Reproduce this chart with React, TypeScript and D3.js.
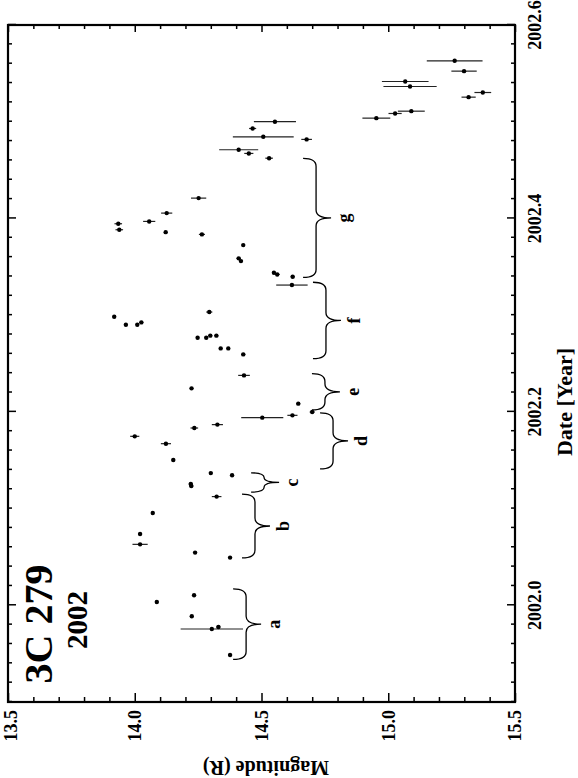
import { useEffect, useRef } from 'react'
import * as d3 from 'd3'

// R-band light curve of 3C 279, 2002 (drawn rotated, as in the paper)
const dates = [
  2001.9486, 2001.9755, 2001.9776, 2001.9886, 2002.0034, 2002.0103, 2002.0493, 2002.0545, 2002.063, 2002.0737,
  2002.0954, 2002.1124, 2002.1233, 2002.1254, 2002.1344, 2002.1367, 2002.1502, 2002.1671, 2002.1747, 2002.1833,
  2002.1868, 2002.194, 2002.1964, 2002.1998, 2002.2085, 2002.2243, 2002.2377, 2002.2594, 2002.2656, 2002.2656,
  2002.2767, 2002.2767, 2002.2788, 2002.2788, 2002.2901, 2002.2901, 2002.2925, 2002.2984, 2002.3032, 2002.3311,
  2002.3397, 2002.3421, 2002.3439, 2002.3559, 2002.3587, 2002.3724, 2002.3835, 2002.3858, 2002.3883, 2002.3945,
  2002.3969, 2002.4055, 2002.421, 2002.4623, 2002.4672, 2002.471, 2002.4817, 2002.4844, 2002.493, 2002.5,
  2002.5037, 2002.5085, 2002.5109, 2002.5254, 2002.5302, 2002.5364, 2002.5416, 2002.5523, 2002.563,
]
const mags = [
  14.376, 14.304, 14.33, 14.225, 14.087, 14.234, 14.376, 14.238, 14.021, 14.021,
  14.071, 14.323, 14.223, 14.221, 14.384, 14.3, 14.152, 14.123, 14.0, 14.235,
  14.326, 14.503, 14.622, 14.7, 14.645, 14.224, 14.431, 14.428, 14.339, 14.369,
  14.248, 14.282, 14.298, 14.322, 13.965, 14.01, 14.026, 13.919, 14.294, 14.62,
  14.623, 14.562, 14.549, 14.419, 14.41, 14.428, 14.265, 14.122, 13.939, 13.935,
  14.057, 14.126, 14.252, 14.53, 14.45, 14.41, 14.678, 14.507, 14.465, 14.553,
  14.953, 15.027, 15.091, 15.317, 15.373, 15.086, 15.067, 15.299, 15.262,
]
const magErrs = [
  0.008, 0.123, 0.008, 0.006, 0.006, 0.006, 0.006, 0.006, 0.03, 0.008,
  0.006, 0.019, 0.008, 0.008, 0.006, 0.006, 0.006, 0.02, 0.018, 0.015,
  0.022, 0.083, 0.02, 0.01, 0.008, 0.006, 0.023, 0.008, 0.006, 0.006,
  0.006, 0.006, 0.008, 0.008, 0.006, 0.006, 0.008, 0.006, 0.012, 0.062,
  0.008, 0.01, 0.006, 0.006, 0.008, 0.006, 0.012, 0.006, 0.015, 0.015,
  0.024, 0.022, 0.03, 0.015, 0.018, 0.077, 0.021, 0.12, 0.014, 0.083,
  0.055, 0.026, 0.053, 0.028, 0.033, 0.105, 0.092, 0.05, 0.11,
]

const braceLabels = ['a', 'b', 'c', 'd', 'e', 'f', 'g']
const braceStart = [2001.944, 2002.049, 2002.117, 2002.141, 2002.202, 2002.255, 2002.339]
const braceEnd = [2002.017, 2002.115, 2002.137, 2002.199, 2002.2395, 2002.334, 2002.462]
const braceMag = [14.388, 14.423, 14.459, 14.731, 14.699, 14.703, 14.664]

const dateTicks = [2002.0, 2002.2, 2002.4, 2002.6]
const magTicks = [13.5, 14.0, 14.5, 15.0, 15.5]

const App = () => {
  const d3Container = useRef(null)
  const width = 578
  const height = 778
  // frame on screen
  const left = 8, top = 25, right = 515, bottom = 702

  useEffect(() => {
    if (!d3Container.current) return
    const font = "'Liberation Serif', 'Times New Roman', serif"
    const plotW = bottom - top   // date axis length
    const plotH = right - left   // magnitude axis length

    const x = d3.scaleLinear().domain([2001.9, 2002.6]).range([0, plotW])
    const y = d3.scaleLinear().domain([13.5, 15.5]).range([0, plotH])

    const svg = d3.select(d3Container.current)
    svg.selectAll('*').remove()

    // whole chart is turned a quarter turn counter-clockwise
    const g = svg.append('g')
      .attr('transform', `translate(${left},${bottom}) rotate(-90)`)

    const minorDates = d3.range(0, 36).map(i => +(2001.9 + i * 0.02).toFixed(2))
    const minorMags = d3.range(0, 21).map(i => +(13.5 + i * 0.1).toFixed(1))

    const addAxis = (axis, tr, vals, len) => {
      const a = g.append('g').attr('transform', tr)
        .call(axis.tickValues(vals).tickSize(-len).tickFormat(''))
      a.select('.domain').remove()
      a.selectAll('line').attr('stroke', '#000').attr('stroke-width', 1.5)
    }
    const minorD = minorDates.filter(d => !dateTicks.some(t => Math.abs(t - d) < 1e-6))
    const minorM = minorMags.filter(d => !magTicks.some(t => Math.abs(t - d) < 1e-6))
    addAxis(d3.axisBottom(x), `translate(0,${plotH})`, minorD, 4)
    addAxis(d3.axisBottom(x), `translate(0,${plotH})`, dateTicks, 8)
    addAxis(d3.axisTop(x), 'translate(0,0)', minorD, 4)
    addAxis(d3.axisTop(x), 'translate(0,0)', dateTicks, 8)
    addAxis(d3.axisLeft(y), 'translate(0,0)', minorM, 5)
    addAxis(d3.axisLeft(y), 'translate(0,0)', magTicks, 9)
    addAxis(d3.axisRight(y), `translate(${plotW},0)`, minorM, 4)
    addAxis(d3.axisRight(y), `translate(${plotW},0)`, magTicks, 7)

    g.append('rect')
      .attr('x', 0).attr('y', 0)
      .attr('width', plotW).attr('height', plotH)
      .attr('fill', 'none')
      .attr('stroke', '#000')
      .attr('stroke-width', 2.2)

    // tick labels
    g.selectAll('.dlab').data(dateTicks).enter().append('text')
      .attr('x', d => x(d))
      .attr('y', plotH + 26)
      .attr('text-anchor', 'middle')
      .style('font-family', font).style('font-weight', 'bold').style('font-size', '18px')
      .text(d => d.toFixed(1))

    g.selectAll('.mlab').data(magTicks).enter().append('text')
      .attr('x', -8)
      .attr('y', d => Math.max(y(d), 3))
      .attr('dy', '0.35em')
      .attr('text-anchor', 'end')
      .style('font-family', font).style('font-weight', 'bold').style('font-size', '18px')
      .text(d => d.toFixed(1))

    // axis titles
    g.append('text')
      .attr('transform', `translate(${-59},${258}) rotate(-90)`)
      .attr('text-anchor', 'middle')
      .style('font-family', font).style('font-weight', 'bold').style('font-size', '20px')
      .text('Magnitude (R)')

    g.append('text')
      .attr('x', 300).attr('y', 564)
      .attr('text-anchor', 'middle')
      .style('font-family', font).style('font-weight', 'bold').style('font-size', '22px')
      .text('Date [Year]')

    // source name
    g.append('text')
      .attr('x', 78).attr('y', 44)
      .attr('text-anchor', 'middle')
      .style('font-family', font).style('font-weight', 'bold').style('font-size', '40px')
      .text('3C 279')
    g.append('text')
      .attr('x', 82).attr('y', 79)
      .attr('text-anchor', 'middle')
      .style('font-family', font).style('font-weight', 'bold').style('font-size', '29px')
      .text('2002')

    const points = dates.map((d, i) => ({ date: d, mag: mags[i], err: magErrs[i] }))

    g.selectAll('.err').data(points).enter().append('line')
      .attr('x1', d => x(d.date)).attr('x2', d => x(d.date))
      .attr('y1', d => y(d.mag - d.err)).attr('y2', d => y(d.mag + d.err))
      .attr('stroke', '#222')
      .attr('stroke-width', 1.2)

    g.selectAll('.pt').data(points).enter().append('circle')
      .attr('cx', d => x(d.date))
      .attr('cy', d => y(d.mag))
      .attr('r', 2.2)
      .attr('fill', '#000')

    // curly braces marking the flare segments
    const spine = 13, depth = 28
    const braces = braceLabels.map((l, i) => ({ label: l, u1: x(braceStart[i]), u2: x(braceEnd[i]), v0: y(braceMag[i]) }))
    const bracePath = b => {
      const um = (b.u1 + b.u2) / 2
      const r = Math.min(8, (b.u2 - b.u1) / 4)
      const p = d3.path()
      p.moveTo(b.u1, b.v0)
      p.quadraticCurveTo(b.u1, b.v0 + spine, b.u1 + r, b.v0 + spine)
      p.lineTo(um - r, b.v0 + spine)
      p.quadraticCurveTo(um, b.v0 + spine, um, b.v0 + depth)
      p.quadraticCurveTo(um, b.v0 + spine, um + r, b.v0 + spine)
      p.lineTo(b.u2 - r, b.v0 + spine)
      p.quadraticCurveTo(b.u2, b.v0 + spine, b.u2, b.v0)
      return p.toString()
    }
    g.selectAll('.brace').data(braces).enter().append('path')
      .attr('d', bracePath)
      .attr('fill', 'none')
      .attr('stroke', '#000')
      .attr('stroke-width', 1.3)

    g.selectAll('.blab').data(braces).enter().append('text')
      .attr('x', d => (d.u1 + d.u2) / 2)
      .attr('y', d => d.v0 + depth + 13)
      .attr('dy', '0.35em')
      .attr('text-anchor', 'middle')
      .style('font-family', font).style('font-weight', 'bold').style('font-size', '18px')
      .text(d => d.label)
  }, [])

  return (
    <svg
      ref={d3Container}
      width={width}
      height={height}
      style={{ position: 'absolute', left: 0, top: 0, background: '#fff' }}
    />
  )
}

export default App
